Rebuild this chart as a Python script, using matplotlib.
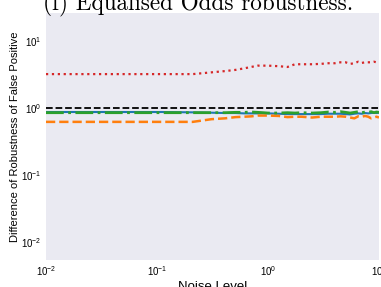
import numpy as np
import matplotlib
matplotlib.use("Agg")
import matplotlib.pyplot as plt

plt.rcParams["font.family"] = ["Liberation Sans", "DejaVu Sans"]
plt.rcParams["mathtext.fontset"] = "custom"
plt.rcParams["mathtext.rm"] = "Liberation Sans"
plt.rcParams["mathtext.it"] = "Liberation Sans:italic"
plt.rcParams["mathtext.bf"] = "Liberation Sans:bold"

# noise levels used in the sweep
noise = [0.01, 0.11, 0.21, 0.31, 0.41, 0.51, 0.61, 0.71, 0.81, 0.91,
         1.0, 1.25, 1.5, 1.75, 2.0, 2.5, 3.0, 3.5, 4.0, 4.5,
         5.0, 5.5, 6.0, 6.5, 7.0, 7.5, 8.0, 8.5, 9.0, 9.5, 10.0]

# difference of robustness (false positive) per method
blue = [0.87, 0.87, 0.86, 0.85, 0.84, 0.84, 0.83, 0.83, 0.83, 0.83,
        0.83, 0.82, 0.81, 0.81, 0.81, 0.81, 0.81, 0.82, 0.82, 0.82,
        0.81, 0.80, 0.82, 0.83, 0.82, 0.84, 0.83, 0.84, 0.85, 0.84, 0.85]
orange = [0.62, 0.62, 0.62, 0.68, 0.70, 0.73, 0.74, 0.75, 0.77, 0.77,
          0.77, 0.76, 0.73, 0.74, 0.74, 0.72, 0.74, 0.74, 0.74, 0.75,
          0.74, 0.72, 0.70, 0.75, 0.74, 0.76, 0.74, 0.70, 0.72, 0.74, 0.72]
green = [0.85, 0.85, 0.85, 0.85, 0.85, 0.86, 0.86, 0.87, 0.86, 0.85,
         0.84, 0.84, 0.85, 0.84, 0.85, 0.84, 0.85, 0.87, 0.86, 0.88,
         0.86, 0.84, 0.86, 0.88, 0.85, 0.87, 0.86, 0.88, 0.85, 0.87, 0.86]
red = [3.2, 3.2, 3.2, 3.4, 3.55, 3.7, 3.9, 4.1, 4.28, 4.28,
       4.28, 4.2, 4.09, 4.49, 4.49, 4.49, 4.55, 4.65, 4.65, 4.8,
       4.8, 4.55, 4.65, 4.9, 4.7, 4.8, 4.8, 4.8, 4.9, 4.8, 4.8]

fig = plt.figure(figsize=(3.81, 2.87), dpi=100)
ax = fig.add_axes([0.1207, 0.094, 0.874, 0.861])
ax.set_facecolor("#eaeaf2")
for s in ax.spines.values():
    s.set_visible(False)

ax.axhline(1.0, color="black", ls="--", lw=1.3)
ax.plot(noise, blue, color="#1f77b4", ls="-", lw=1.5)
ax.plot(noise, orange, color="#ff7f0e", ls="--", lw=1.8)
ax.plot(noise, green, color="#2ca02c", ls="-.", lw=2.0)
ax.plot(noise, red, color="#d62728", ls=":", lw=1.6)

ax.set_xscale("log")
ax.set_yscale("log")
ax.set_xlim(0.01, 10)
ax.set_ylim(0.00538, 26.2)
ax.tick_params(axis="both", which="both", length=0, labelsize=7, pad=3)
ax.minorticks_off()

ax.set_xlabel("Noise Level", fontsize=9.5, labelpad=2)
ax.set_ylabel("Difference of Robustness of False Positive", fontsize=8, labelpad=1)

fig.text(0.52, 0.965, "(f) Equalised Odds robustness.", family="cmr10",
         fontsize=16.7, ha="center", va="baseline")

fig.savefig("out.png", dpi=100)
